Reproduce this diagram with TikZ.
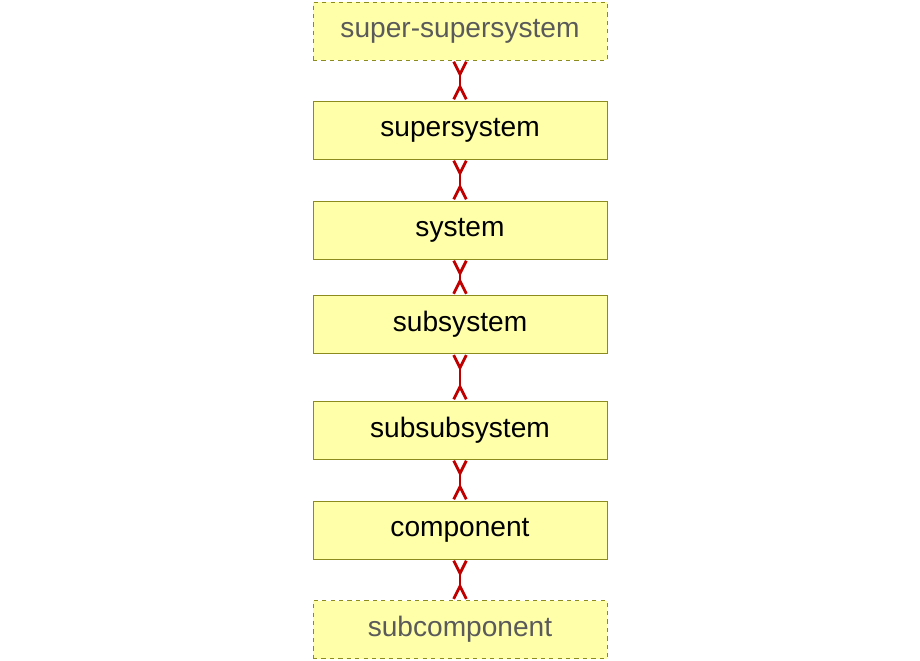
\documentclass[tikz,border=0pt]{standalone}
\usepackage{fontspec}
\setmainfont{Liberation Sans}
\usetikzlibrary{arrows.meta,positioning}
\definecolor{boxfill}{HTML}{FFFFAA}
\definecolor{boxline}{HTML}{8C8C1E}
\definecolor{linkred}{HTML}{C00000}
\definecolor{fadetext}{HTML}{5A5A5A}
\tikzset{
  level/.style={draw=boxline,fill=boxfill,minimum width=7.35cm,minimum height=1.45cm,
    font=\fontsize{20}{24}\selectfont,inner sep=0pt},
  outer/.style={level,dashed,text=fadetext},
  link/.style={draw=linkred,line width=2pt,
    {Straight Barb[reversed,length=9pt,width=9pt]}-{Straight Barb[reversed,length=9pt,width=9pt]}}
}
\begin{document}
\begin{tikzpicture}
  \useasboundingbox (0,0) rectangle (23,-16.5);
  \node[outer] (ssup) at (11.5,-0.775) {super-supersystem};
  \node[level] (sup) at (11.5,-3.25) {supersystem};
  \node[level] (sys) at (11.5,-5.75) {system};
  \node[level] (sub) at (11.5,-8.11) {subsystem};
  \node[level] (ssub) at (11.5,-10.75) {subsubsystem};
  \node[level] (comp) at (11.5,-13.25) {component};
  \node[outer] (scomp) at (11.5,-15.74) {subcomponent};
  \foreach \a/\b in {ssup/sup,sup/sys,sys/sub,sub/ssub,ssub/comp,comp/scomp}
    \draw[link] (\a) -- (\b);
\end{tikzpicture}
\end{document}
